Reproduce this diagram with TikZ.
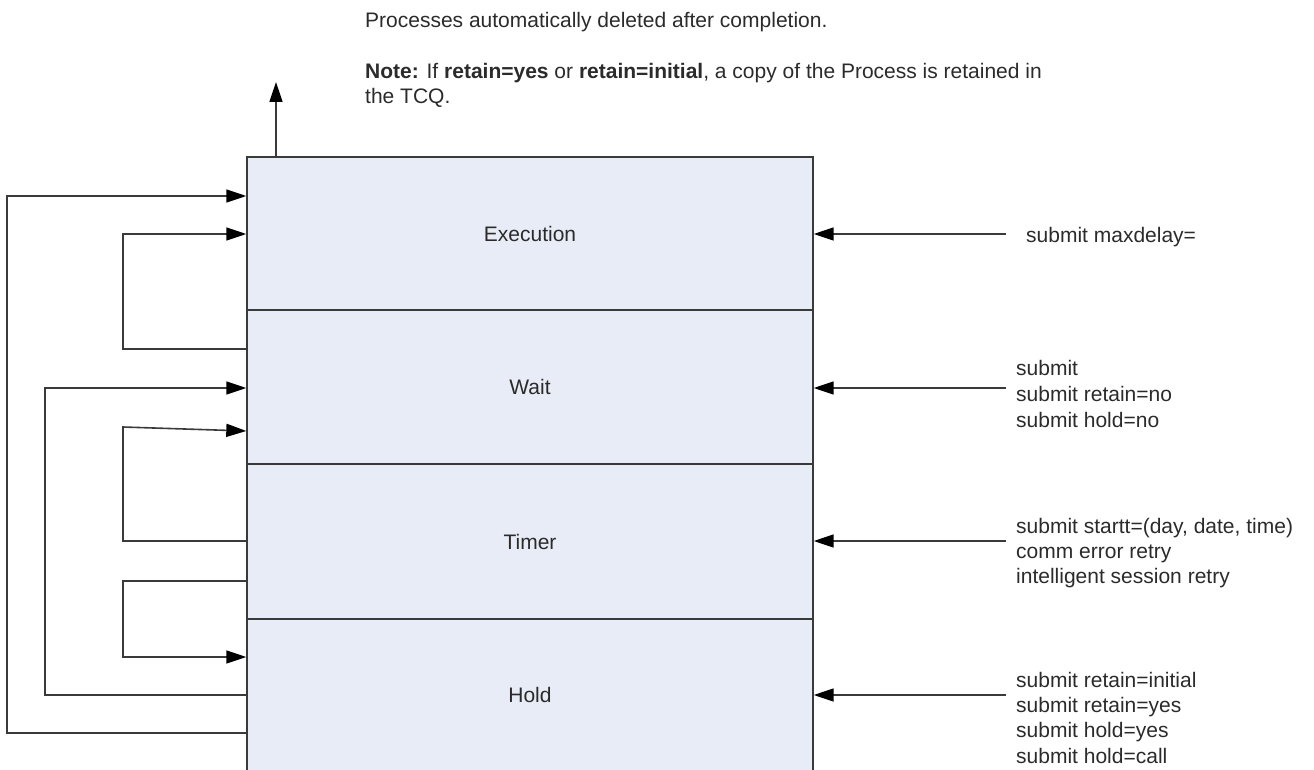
\documentclass[tikz,border=0pt]{standalone}
\usepackage{fontspec}
\setmainfont{Liberation Sans}
\usetikzlibrary{arrows.meta}
\definecolor{boxfill}{HTML}{E8ECF6}
\definecolor{linec}{HTML}{3A3A3A}
\definecolor{txt}{HTML}{2B2B2B}
\begin{document}
\begin{tikzpicture}[x=1pt,y=-1pt,
  sect/.style={draw=linec,fill=boxfill,line width=1.4pt,minimum width=566pt,inner sep=0pt,text=txt,font=\fontsize{21}{26}\selectfont},
  conn/.style={draw=linec,line width=1.6pt},
  arr/.style={conn,-{Triangle[length=20pt,width=13pt,color=black]}},
  lab/.style={anchor=base west,inner sep=0pt,text=txt,font=\fontsize{21}{26}\selectfont}]
\useasboundingbox (0,0) rectangle (1314,770);
% stacked queue sections
\node[sect,minimum height=153pt] (exec)  at (530,233.5) {Execution};
\node[sect,minimum height=154pt] (wait)  at (530,387)   {Wait};
\node[sect,minimum height=155pt] (timer) at (530,541.5) {Timer};
\node[sect,minimum height=152pt] (hold)  at (530,695)   {Hold};
% top text
\node[lab] (t1) at (365,28) {Processes automatically deleted after completion.};
\node[lab] (t2) at (365,79) {\textbf{Note:} If \textbf{retain=yes} or \textbf{retain=initial}, a copy of the Process is retained in};
\node[lab] (t3) at (365,104) {the TCQ.};
% up arrow
\coordinate (outtop) at (276,82);
\draw[arr] (exec.north -| outtop) -- (outtop);
% right labels
\node[lab] (e1) at (1026,242) {submit maxdelay=};
\node[lab] (w1) at (1016,375) {submit};
\node[lab] (w2) at (1016,401) {submit retain=no};
\node[lab] (w3) at (1016,427) {submit hold=no};
\node[lab] (m1) at (1016,533) {submit startt=(day, date, time)};
\node[lab] (m2) at (1016,558) {comm error retry};
\node[lab] (m3) at (1016,583) {intelligent session retry};
\node[lab] (h1) at (1016,687) {submit retain=initial};
\node[lab] (h2) at (1016,712) {submit retain=yes};
\node[lab] (h3) at (1016,737) {submit hold=yes};
\node[lab] (h4) at (1016,763) {submit hold=call};
% right arrows
\coordinate (re) at (1006,234);
\coordinate (rw) at (1006,388);
\coordinate (rt) at (1006,541);
\coordinate (rh) at (1006,695);
\draw[arr] (re) -- (exec.east |- re);
\draw[arr] (rw) -- (wait.east |- rw);
\draw[arr] (rt) -- (timer.east |- rt);
\draw[arr] (rh) -- (hold.east |- rh);
% left loops
\draw[arr] (hold.west |- 0,733) -- (7,733) -- (7,196) -- (exec.west |- 0,196);
\draw[arr] (wait.west |- 0,349) -- (123,349) -- (123,234) -- (exec.west |- 0,234);
\draw[arr] (hold.west |- 0,695) -- (45,695) -- (45,388) -- (wait.west |- 0,388);
\draw[arr] (timer.west |- 0,541) -- (123,541) -- (123,427) -- (wait.west |- 0,431);
\draw[arr] (timer.west |- 0,581) -- (123,581) -- (123,657) -- (hold.west |- 0,657);
\end{tikzpicture}
\end{document}
